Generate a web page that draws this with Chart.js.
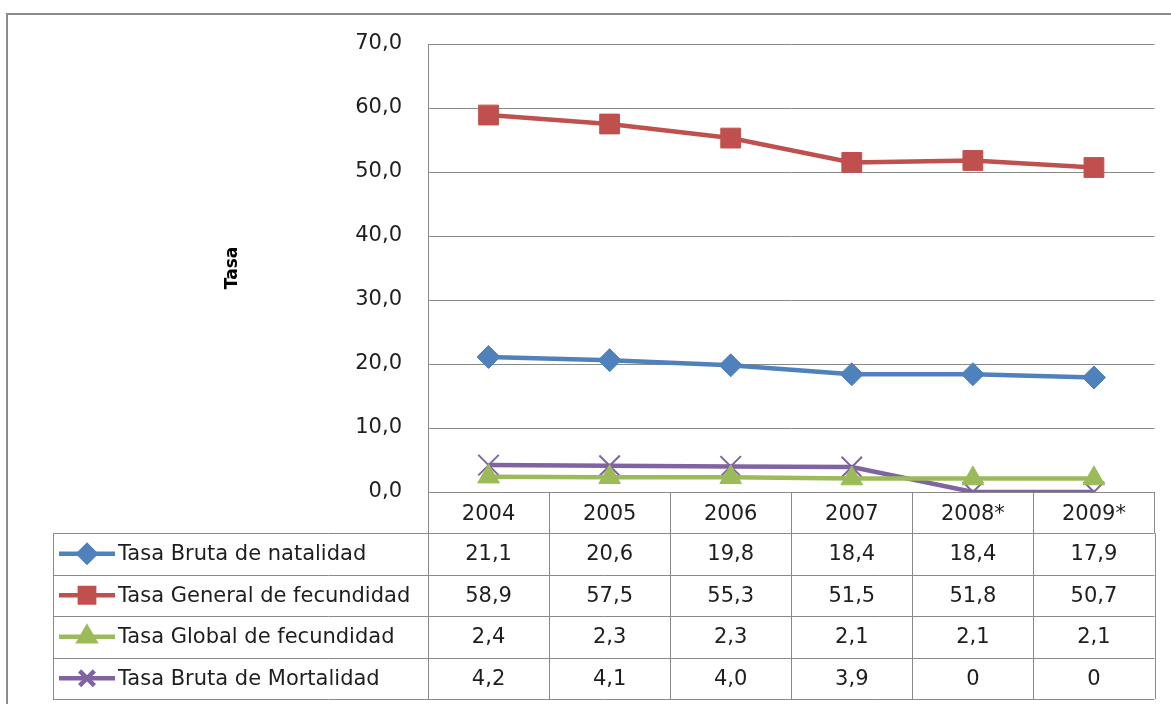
<!DOCTYPE html>
<html>
<head>
<meta charset="utf-8">
<script src="https://cdn.jsdelivr.net/npm/chart.js@4/dist/chart.umd.min.js"></script>
<style>
  html, body { margin: 0; padding: 0; background: #fff; }
</style>
</head>
<body>
<canvas id="lineChart" width="1171" height="704"></canvas>
<script>
const years = ['2004', '2005', '2006', '2007', '2008*', '2009*'];
const brutaNatalidad = [21.1, 20.6, 19.8, 18.4, 18.4, 17.9];
const generalFecundidad = [58.9, 57.5, 55.3, 51.5, 51.8, 50.7];
const globalFecundidad = [2.4, 2.3, 2.3, 2.1, 2.1, 2.1];
const brutaMortalidad = [4.2, 4.1, 4.0, 3.9, 0, 0];
const yMin = 0;
const yMax = 70;
const yStep = 10;

const FONT = "'DejaVu Sans', sans-serif";
const TEXT = '#1e1e1e';
const GRID = '#898989';

const fmt = (v) => (v === 0 ? '0' : v.toFixed(1).replace('.', ','));

// outer frame of the chart object
const framePlugin = {
  id: 'frame',
  beforeDraw(chart) {
    const ctx = chart.ctx;
    ctx.save();
    ctx.fillStyle = '#fff';
    ctx.fillRect(0, 0, chart.width, chart.height);
    ctx.strokeStyle = '#8c8c8c';
    ctx.lineWidth = 2;
    ctx.strokeRect(7, 14, chart.width + 20, chart.height + 20);
    ctx.restore();
  },
};

// data table under the x axis (Excel style)
const tablePlugin = {
  id: 'dataTable',
  afterDraw(chart) {
    const ctx = chart.ctx;
    const x = chart.scales.x;
    const left = 53;
    const top = x.bottom;
    const rowH = 41.5;
    const sets = chart.data.datasets;
    const step = x.width / years.length;
    const bottom = top + rowH * sets.length;

    ctx.save();
    ctx.strokeStyle = GRID;
    ctx.lineWidth = 1;
    ctx.beginPath();
    for (let r = 0; r <= sets.length; r++) {
      const y = Math.round(top + r * rowH) + 0.5;
      ctx.moveTo(left, y);
      ctx.lineTo(x.right, y);
    }
    ctx.moveTo(left + 0.5, top);
    ctx.lineTo(left + 0.5, bottom);
    for (let c = 0; c <= years.length; c++) {
      const cx = Math.round(x.left + c * step) + 0.5;
      ctx.moveTo(cx, top);
      ctx.lineTo(cx, bottom);
    }
    ctx.stroke();

    sets.forEach((ds, r) => {
      const cy = top + r * rowH + rowH / 2;
      // legend key
      ctx.strokeStyle = ds.borderColor;
      ctx.lineWidth = 4.5;
      ctx.beginPath();
      ctx.moveTo(left + 6, cy);
      ctx.lineTo(left + 62, cy);
      ctx.stroke();
      ctx.fillStyle = ds.pointBackgroundColor;
      ctx.strokeStyle = ds.pointBorderColor;
      Chart.helpers.drawPoint(ctx, {
        pointStyle: ds.pointStyle,
        radius: ds.pointRadius * 0.72,
        borderWidth: ds.pointBorderWidth,
        rotation: 0,
      }, left + 34, cy);

      ctx.fillStyle = TEXT;
      ctx.font = '21px ' + FONT;
      ctx.textBaseline = 'middle';
      ctx.textAlign = 'left';
      ctx.fillText(ds.label, left + 65, cy + 1);
      ctx.textAlign = 'center';
      ds.data.forEach((v, i) => {
        ctx.fillText(fmt(v), x.getPixelForValue(i), cy + 1);
      });
    });
    ctx.restore();
  },
};

const mk = (label, data, color, style, radius, bw) => ({
  label,
  data,
  borderColor: color,
  backgroundColor: color,
  borderWidth: 4.5,
  pointStyle: style,
  pointRadius: radius,
  pointHoverRadius: radius,
  pointBackgroundColor: color,
  pointBorderColor: color,
  pointBorderWidth: bw,
  tension: 0,
});

const ctx = document.getElementById('lineChart').getContext('2d');
const LineChart = new Chart(ctx, {
  type: 'line',
  data: {
    labels: years,
    datasets: [
      mk('Tasa Bruta de natalidad', brutaNatalidad, '#4F81BD', 'rectRot', 11.5, 1),
      mk('Tasa General de fecundidad', generalFecundidad, '#C0504D', 'rect', 14, 1),
      mk('Tasa Global de fecundidad', globalFecundidad, '#9BBB59', 'triangle', 12.5, 1),
      mk('Tasa Bruta de Mortalidad', brutaMortalidad, '#8064A2', 'crossRot', 14.5, 2),
    ],
  },
  options: {
    responsive: false,
    animation: false,
    devicePixelRatio: 1,
    layout: {
      padding: { left: 212, top: 44, right: 16, bottom: 171 },
    },
    plugins: {
      legend: { display: false },
      tooltip: { enabled: false },
    },
    scales: {
      x: {
        offset: true,
        grid: {
          offset: true,
          drawOnChartArea: false,
          drawTicks: true,
          tickLength: 41,
          color: GRID,
        },
        border: { display: true, color: GRID },
        ticks: {
          padding: -31,
          maxRotation: 0,
          color: TEXT,
          font: { family: FONT, size: 21 },
        },
        afterFit(scale) {
          scale.height = 41;
        },
      },
      y: {
        min: yMin,
        max: yMax,
        grid: { color: GRID, drawTicks: false },
        border: { display: true, color: GRID },
        ticks: {
          stepSize: yStep,
          padding: 26,
          color: TEXT,
          font: { family: FONT, size: 21 },
          callback: (v) => v.toFixed(1).replace('.', ','),
        },
        title: {
          display: true,
          text: 'Tasa',
          color: '#000',
          font: { family: FONT, size: 17, weight: 'bold' },
          padding: { top: 10, bottom: 0 },
        },
        afterFit(scale) {
          scale.width = 216;
        },
      },
    },
  },
  plugins: [framePlugin, tablePlugin],
});
</script>
</body>
</html>
